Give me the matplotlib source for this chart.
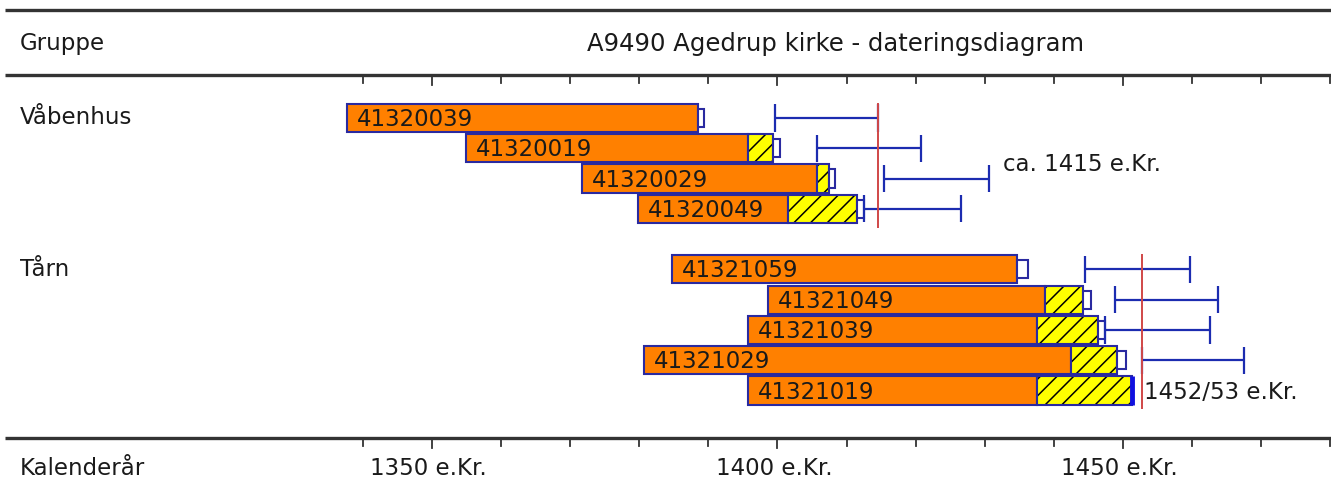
import matplotlib.pyplot as plt
import numpy as np

# sample data (years AD)
samples = ['41320039', '41320019', '41320029', '41320049',
           '41321059', '41321049', '41321039', '41321029', '41321019']
group_of = [0, 0, 0, 0, 1, 1, 1, 1, 1]
groups = ['Våbenhus', 'Tårn']
start = [1337.7, 1354.9, 1371.7, 1379.8, 1384.7, 1398.6, 1395.7, 1380.7, 1395.7]
heart_end = [1388.5, 1395.7, 1405.7, 1401.5, 1434.7, 1438.7, 1437.6, 1442.5, 1437.6]
sap_end = [1388.5, 1399.3, 1407.5, 1411.5, 1434.7, 1444.2, 1446.4, 1449.1, 1451.3]
box_end = [1389.4, 1400.4, 1408.3, 1412.5, 1436.3, 1445.4, 1447.4, 1450.4, np.nan]
fell_lo = [1399.6, 1405.7, 1415.4, 1412.5, 1444.5, 1448.8, 1447.4, 1452.7, np.nan]
fell_hi = [1414.5, 1420.8, 1430.6, 1426.6, 1459.7, 1463.7, 1462.6, 1467.5, np.nan]
group_dates = [1414.5, 1452.7]
group_texts = ['ca. 1415 e.Kr.', '1452/53 e.Kr.']
bark_edge = [False, False, False, False, False, False, False, False, True]

tick_years = np.arange(1340, 1481, 10)
label_years = [1350, 1400, 1450]

ORANGE = '#ff8000'
EDGE = '#2a2aa0'
BLUE = '#1c2cb0'
RED = '#d04848'
TXT = '#1a1a1a'
FS = 16.5

plt.rcParams['hatch.linewidth'] = 1.1

fig = plt.figure(figsize=(13.31, 4.99), dpi=100)
ax = fig.add_axes([0, 0, 1, 1])
ax.set_xlim(1287.5, 1480.1)
ax.set_ylim(12.58, -3.894)
ax.axis('off')

# rows: one empty row between the groups
rows = []
r = 0
for i in range(len(samples)):
    if i > 0 and group_of[i] != group_of[i - 1]:
        r += 1
    rows.append(r)
    r += 1
rows = np.array(rows)

h = 0.93
# heartwood part
ax.barh(rows, np.array(heart_end) - np.array(start), left=start, height=h,
        color=ORANGE, edgecolor=EDGE, linewidth=1.5, zorder=2)
# sapwood part (hatched yellow, black hatch, blue outline)
sw = np.array(sap_end) - np.array(heart_end)
m = sw > 0
ax.barh(rows[m], sw[m], left=np.array(heart_end)[m], height=h,
        color='#ffff00', edgecolor='black', linewidth=0, hatch='//', zorder=2)
ax.barh(rows[m], sw[m], left=np.array(heart_end)[m], height=h,
        fill=False, edgecolor=EDGE, linewidth=1.5, zorder=2)
# small box at the end of the measured wood
bw = np.array(box_end) - np.array(sap_end)
m = ~np.isnan(bw)
ax.barh(rows[m], bw[m], left=np.array(sap_end)[m], height=0.6,
        color='white', edgecolor=EDGE, linewidth=1.5, zorder=2)

for i, name in enumerate(samples):
    ax.text(start[i] + 1.4, rows[i] + 0.05, name, fontsize=FS, color=TXT,
            va='center', ha='left', zorder=3)
    if bark_edge[i]:
        ax.vlines(sap_end[i], rows[i] - h / 2, rows[i] + h / 2, color='#1010e0',
                  linewidth=3.5, zorder=3)
    if not np.isnan(fell_lo[i]):
        ax.hlines(rows[i], fell_lo[i], fell_hi[i], color=BLUE, linewidth=1.6)
        ax.vlines([fell_lo[i], fell_hi[i]], rows[i] - 0.45, rows[i] + 0.45,
                  color=BLUE, linewidth=1.6)

# group labels, felling dates
for g in range(len(groups)):
    gr = rows[np.array(group_of) == g]
    ax.text(1290.4, gr.min(), groups[g], fontsize=FS, color=TXT, va='center')
    ax.vlines(group_dates[g], gr.min() - 0.5, gr.max() + 0.62, color=RED,
              linewidth=1.4, zorder=4)
ax.text(1432.6, 1.55, group_texts[0], fontsize=FS, color=TXT, va='center')
ax.text(1453.0, rows[-1] + 0.05, group_texts[1], fontsize=FS, color=TXT,
        va='center')

# header and footer lines with ticks
tr = ax.get_xaxis_transform()
for y in [0.98, 0.85, 0.122]:
    ax.plot([0.004, 1], [y, y], color='#333333', linewidth=2.4,
            transform=ax.transAxes, solid_capstyle='butt')
for y in [0.85, 0.122]:
    for t in tick_years:
        l = 10 if t in label_years else 8
        ax.plot([t, t], [y, y - l / 499], color='#333333', linewidth=1.3,
                transform=tr)

fig.text(0.015, 0.912, 'Gruppe', fontsize=FS, color=TXT, va='center')
fig.text(0.628, 0.912, 'A9490 Agedrup kirke - dateringsdiagram', fontsize=17.5,
         color=TXT, va='center', ha='center')
fig.text(0.015, 0.062, 'Kalenderår', fontsize=FS, color=TXT, va='center')
for yr in label_years:
    ax.text(yr - 0.5, 0.062, f'{yr} e.Kr.', fontsize=FS, color=TXT,
            va='center', ha='center', transform=tr)

fig.savefig('out.png', dpi=100)
